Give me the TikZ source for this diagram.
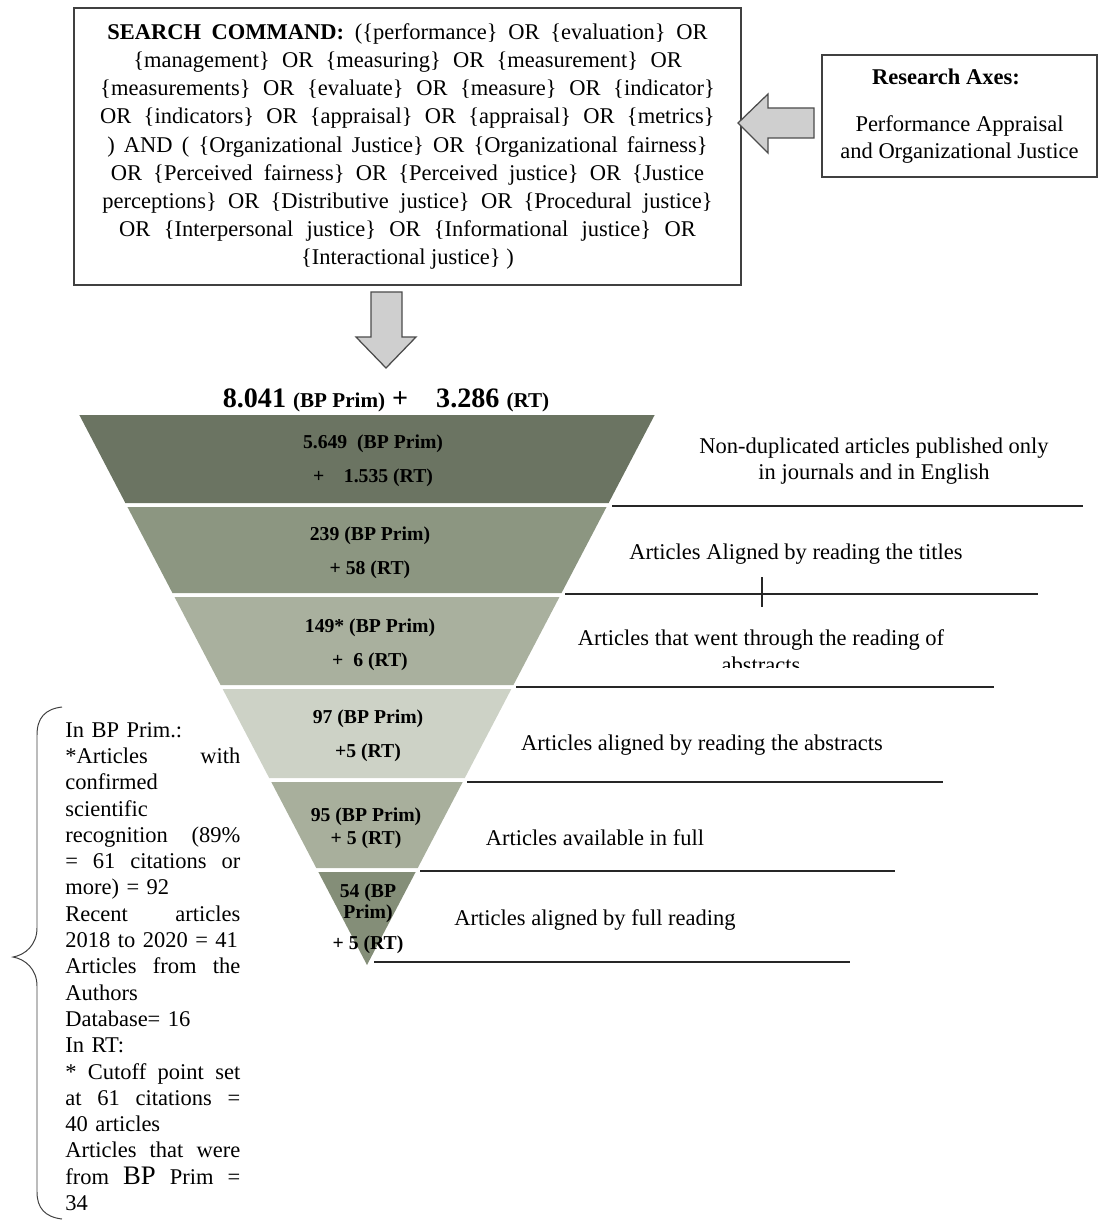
\documentclass[tikz,border=0pt]{standalone}
\usepackage{fontspec}
\setmainfont{Liberation Serif}
\usetikzlibrary{calc}

\definecolor{layA}{HTML}{6B7462}
\definecolor{layB}{HTML}{8C9681}
\definecolor{layC}{HTML}{A9B09E}
\definecolor{layD}{HTML}{CDD2C6}
\definecolor{layE}{HTML}{A8AF9C}
\definecolor{layF}{HTML}{848E78}
\definecolor{arrowgray}{HTML}{CFCFCF}

% one slice of the funnel, between two heights
\def\layer#1#2#3{\fill[#3] ({367-(965-#1)*0.523},#1) -- ({367+(965-#1)*0.523},#1) -- ({367+(965-#2)*0.523},#2) -- ({367-(965-#2)*0.523},#2) -- cycle;}
\def\cmdline#1#2{\makebox[#1][s]{#2}}
\def\jline#1{\makebox[4.375cm][l]{#1}}

\tikzset{
  boxline/.style={draw=black!75, line width=1.2pt},
  cmdbox/.style={boxline, inner sep=0pt, align=center, font=\fontsize{16}{20}\selectfont},
  axisbox/.style={boxline, inner sep=0pt, align=center, font=\fontsize{16}{19}\selectfont},
  blockarrow/.style={fill=arrowgray, draw=black!70, line width=0.9pt},
  laytext/.style={align=center, inner sep=0pt, font=\bfseries\fontsize{14}{24}\selectfont},
  steplabel/.style={align=center, inner sep=0pt, font=\fontsize{16}{19}\selectfont},
  stepline/.style={draw=black!85, line width=1pt},
  notes/.style={align=left, inner sep=0pt, font=\fontsize{16}{18.7}\selectfont}
}

\begin{document}
\begin{tikzpicture}[x=0.025cm, y=-0.025cm]
		\useasboundingbox (0,0) rectangle (1099,1220);
		
		%%%%% SEARCH COMMAND %%%%%
		\node[cmdbox, minimum width=16.675cm, minimum height=6.925cm] (cmd) at (407.5,146.5) {%
			\cmdline{427pt}{\textbf{SEARCH COMMAND:} (\{performance\} OR \{evaluation\} OR}\\
			\cmdline{390pt}{\{management\} OR \{measuring\} OR \{measurement\} OR}\\
			\cmdline{437pt}{\{measurements\} OR \{evaluate\} OR \{measure\} OR \{indicator\}}\\
			\cmdline{437pt}{OR \{indicators\} OR \{appraisal\} OR \{appraisal\} OR \{metrics\}}\\
			\cmdline{427pt}{) AND ( \{Organizational Justice\} OR \{Organizational fairness\}}\\
			\cmdline{422pt}{OR \{Perceived fairness\} OR \{Perceived justice\} OR \{Justice}\\
			\cmdline{434pt}{perceptions\} OR \{Distributive justice\} OR \{Procedural justice\}}\\
			\cmdline{410pt}{OR \{Interpersonal justice\} OR \{Informational justice\} OR}\\
			\{Interactional justice\} )};
		
		\node[axisbox, minimum width=6.875cm, minimum height=3.05cm] (axes) at (959.5,116) {%
			\textbf{Research Axes:}\hspace*{1.2em}\\[15pt]
			Performance Appraisal\\
			and Organizational Justice};
		
		% block arrows
		\draw[blockarrow] (738,123) -- (768,94) -- (768,108) -- (814,108) -- (814,138) -- (768,138) -- (768,153) -- cycle;
		\draw[blockarrow] (371,292) -- (402,292) -- (402,337) -- (416,337) -- (386,368) -- (356,337) -- (371,337) -- cycle;
		
		%%%%% FUNNEL %%%%%
		\node[font=\bfseries\fontsize{20}{22}\selectfont] (total) at (386,400) {8.041 {\fontsize{15}{16}\selectfont (BP Prim)} +\quad 3.286 {\fontsize{15}{16}\selectfont (RT)}};
		
		\layer{415}{503}{layA}
		\layer{507}{593}{layB}
		\layer{597}{685}{layC}
		\layer{689}{778}{layD}
		\layer{782}{868}{layE}
		\layer{872}{965}{layF}
		
		\node[laytext] (n1) at (373,461) {5.649~ (BP Prim)\\ +\quad 1.535 (RT)};
		\node[laytext] (n2) at (370,553) {239 (BP Prim)\\ + 58 (RT)};
		\node[laytext] (n3) at (370,645) {149* (BP Prim)\\ +~ 6 (RT)};
		\node[laytext] (n4) at (368,736) {97 (BP Prim)\\ +5 (RT)};
		\node[laytext, font=\bfseries\fontsize{14}{16.4}\selectfont] (n5) at (366,828) {95 (BP Prim)\\ + 5 (RT)};
		\node[laytext, font=\bfseries\fontsize{14}{15}\selectfont] (n6) at (368,919) {54 (BP\\ Prim)\\[7pt] + 5 (RT)};
		
		% steps on the right
		\draw[stepline] (612,506) -- (1083,506);
		\draw[stepline] (565,594) -- (1038,594);
		\draw[stepline] (762,577) -- (762,607);
		\draw[stepline] (516,687) -- (994,687);
		\draw[stepline] (467,782) -- (943,782);
		\draw[stepline] (420,871) -- (895,871);
		\draw[stepline] (374,962) -- (850,962);
		
		\node[steplabel] (s1) at (874,461) {Non-duplicated articles published only\\ in journals and in English};
		\node[steplabel] (s2) at (796,554) {Articles Aligned by reading the titles};
		\begin{scope}
			\clip (500,600) rectangle (1010,667);
			\node[steplabel] (s3) at (761,651) {Articles that went through the reading of\\ abstracts};
		\end{scope}
		\node[steplabel] (s4) at (702,745) {Articles aligned by reading the abstracts};
		\node[steplabel] (s5) at (595,838) {Articles available in full};
		\node[steplabel] (s6) at (595,920) {Articles aligned by full reading};
		
		%%%%% NOTES %%%%%
		\draw[draw=black!75, line width=0.7pt] (62,707) .. controls (45,709) and (37,718) .. (37,735) -- (37,928) .. controls (37,945) and (25,955) .. (13,957) .. controls (25,959) and (37,969) .. (37,986) -- (37,1192) .. controls (37,1208) and (45,1217) .. (62,1219);
		
		\node[notes, text width=4.375cm, anchor=north west] (notes) at (65,722) {%
			In BP Prim.:\\
			\jline{*Articles\hfill with}\\
			confirmed\\
			scientific\\
			\jline{recognition\hfill (89\%}\\
			\jline{=\hfill 61\hfill citations\hfill or}\\
			more) = 92\\
			\jline{Recent\hfill articles}\\
			\jline{2018 to 2020 = 41}\\
			\jline{Articles\hfill from\hfill the}\\
			Authors\\
			Database= 16\\
			In RT:\\
			\jline{*\hfill Cutoff\hfill point\hfill set}\\
			\jline{at\hfill 61\hfill citations\hfill =}\\
			40 articles\\
			\jline{Articles\hfill that\hfill were}\\
			\jline{from\hfill {\fontsize{19}{19}\selectfont BP}\hfill Prim\hfill =}\\
			34};
		
\end{tikzpicture}
\end{document}
